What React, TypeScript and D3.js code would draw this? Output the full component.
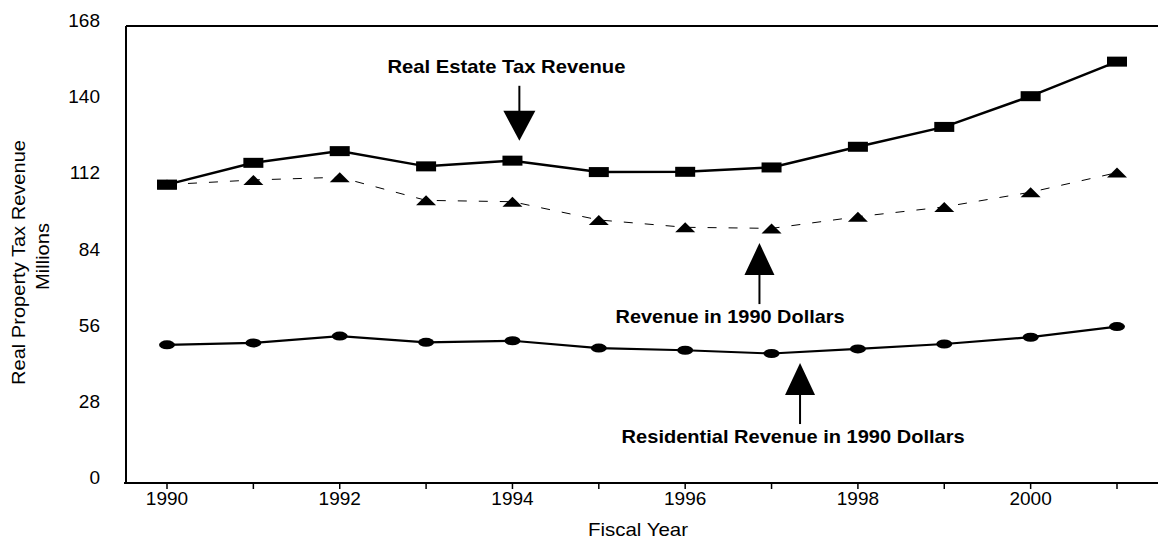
import React from "react";
import * as d3 from "d3";

const years = [1990, 1991, 1992, 1993, 1994, 1995, 1996, 1997, 1998, 1999, 2000, 2001];
const realEstateTax = [109.7, 117.7, 122.0, 116.4, 118.5, 114.3, 114.4, 116.0, 123.6, 130.9, 142.2, 154.9];
const revenue1990 = [109.7, 111.4, 112.4, 103.9, 103.4, 96.7, 94.0, 93.6, 97.9, 101.5, 106.9, 114.1];
const residential1990 = [50.8, 51.5, 54.0, 51.7, 52.3, 49.6, 48.8, 47.6, 49.3, 51.1, 53.6, 57.5];
const yTicks = [0, 28, 56, 84, 112, 140, 168];
const xTickLabels = [1990, 1992, 1994, 1996, 1998, 2000];

// annotation anchors in data units (arrow tip)
const annotations = [
  { text: "Real Estate Tax Revenue", year: 1994.08, value: 125.8, dir: "down", textYear: 1993.93, textLen: 238 },
  { text: "Revenue in 1990 Dollars", year: 1996.86, value: 88.2, dir: "up", textYear: 1996.52, textLen: 229 },
  { text: "Residential Revenue in 1990 Dollars", year: 1997.33, value: 44.1, dir: "up", textYear: 1997.25, textLen: 343 },
];

const W = 1158;
const H = 540;
const left = 126;
const right = 1156;
const top = 26;
const bottom = 483;

export default function App() {
  const x = d3.scaleLinear().domain([1990, 2001]).range([167, 1117]);
  const y = d3.scaleLinear().domain([0, 168]).range([bottom, top]);
  const line = d3
    .line<[number, number]>()
    .x((d) => x(d[0]))
    .y((d) => y(d[1]));
  const re = years.map((yr, i) => [yr, realEstateTax[i]] as [number, number]);
  const rv = years.map((yr, i) => [yr, revenue1990[i]] as [number, number]);
  const rs = years.map((yr, i) => [yr, residential1990[i]] as [number, number]);
  const font = "Arial, 'Liberation Sans', Helvetica, sans-serif";

  return (
    <svg
      width={W}
      height={H}
      style={{ position: "absolute", left: 0, top: 0, background: "#fff" }}
      fontFamily={font}
    >
      <rect x={0} y={0} width={W} height={H} fill="#fff" />
      {/* frame */}
      <line x1={left} y1={top} x2={right + 2} y2={top} stroke="#000" strokeWidth={2} />
      <line x1={left} y1={top} x2={left} y2={bottom} stroke="#000" strokeWidth={2} />
      <line x1={left - 2} y1={bottom} x2={right + 2} y2={bottom} stroke="#000" strokeWidth={2.2} />

      {/* x ticks */}
      {years.map((yr) => (
        <line key={yr} x1={x(yr)} x2={x(yr)} y1={bottom} y2={bottom + 6} stroke="#000" strokeWidth={1.5} />
      ))}
      {xTickLabels.map((yr) => (
        <text key={yr} x={x(yr)} y={505} textAnchor="middle" fontSize={19} fill="#000">
          {yr}
        </text>
      ))}
      {/* y tick labels */}
      {yTicks.map((v) => (
        <text key={v} x={100} y={y(v) + 1} textAnchor="end" fontSize={19} fill="#000">
          {v}
        </text>
      ))}

      {/* axis titles */}
      <text
        transform={`translate(25,262.5) rotate(-90)`}
        textAnchor="middle"
        fontSize={18.5}
        textLength={245}
        lengthAdjust="spacingAndGlyphs"
        fill="#000"
      >
        Real Property Tax Revenue
      </text>
      <text
        transform={`translate(49,256.5) rotate(-90)`}
        textAnchor="middle"
        fontSize={18.5}
        textLength={67}
        lengthAdjust="spacingAndGlyphs"
        fill="#000"
      >
        Millions
      </text>
      <text x={638} y={536} textAnchor="middle" fontSize={19} textLength={100} lengthAdjust="spacingAndGlyphs" fill="#000">
        Fiscal Year
      </text>

      {/* series lines */}
      <path d={line(rv) || ""} fill="none" stroke="#000" strokeWidth={1} strokeDasharray="9,12" />
      <path d={line(re) || ""} fill="none" stroke="#000" strokeWidth={2.5} />
      <path d={line(rs) || ""} fill="none" stroke="#000" strokeWidth={2.2} />

      {/* markers */}
      {rv.map((d, i) => (
        <path
          key={"t" + i}
          d={`M${x(d[0]) - 10},${y(d[1]) + 5} L${x(d[0]) + 10},${y(d[1]) + 5} L${x(d[0])},${y(d[1]) - 5} Z`}
          fill="#000"
        />
      ))}
      {re.map((d, i) => (
        <rect key={"s" + i} x={x(d[0]) - 10} y={y(d[1]) - 5} width={20} height={10} fill="#000" />
      ))}
      {rs.map((d, i) => (
        <ellipse key={"c" + i} cx={x(d[0])} cy={y(d[1])} rx={8} ry={4.5} fill="#000" />
      ))}

      {/* annotations */}
      {annotations.map((a, i) => {
        const tx = x(a.year);
        const ty = y(a.value);
        const textX = x(a.textYear);
        if (a.dir === "down") {
          return (
            <g key={i}>
              <line x1={tx} x2={tx} y1={ty - 55} y2={ty - 28} stroke="#000" strokeWidth={2} />
              <path d={`M${tx - 16},${ty - 30} L${tx + 16},${ty - 30} L${tx},${ty} Z`} fill="#000" />
              <text x={textX} y={ty - 68} textAnchor="middle" fontSize={19} fontWeight="bold" textLength={a.textLen} lengthAdjust="spacingAndGlyphs" fill="#000">
                {a.text}
              </text>
            </g>
          );
        }
        return (
          <g key={i}>
            <path d={`M${tx - 15},${ty + 32} L${tx + 15},${ty + 32} L${tx},${ty} Z`} fill="#000" />
            <line x1={tx} x2={tx} y1={ty + 30} y2={ty + 61} stroke="#000" strokeWidth={2} />
            <text x={textX} y={ty + 80} textAnchor="middle" fontSize={19} fontWeight="bold" textLength={a.textLen} lengthAdjust="spacingAndGlyphs" fill="#000">
              {a.text}
            </text>
          </g>
        );
      })}
    </svg>
  );
}
